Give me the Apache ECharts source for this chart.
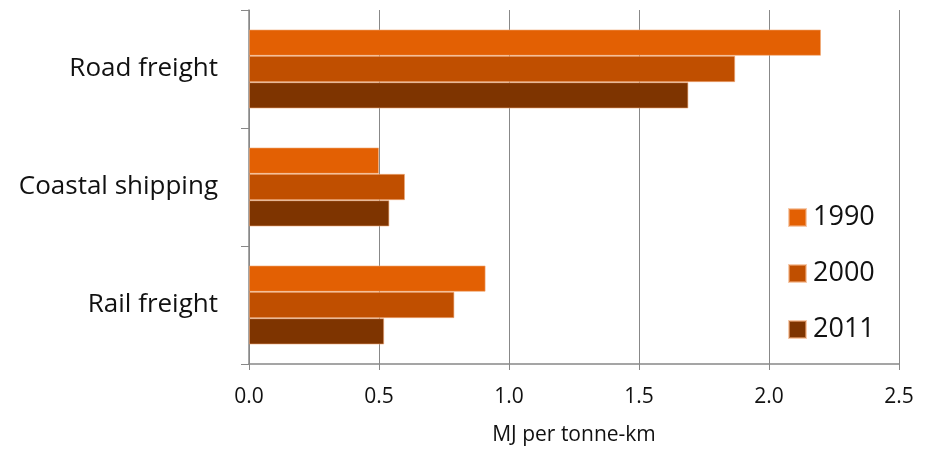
<!DOCTYPE html>
<html>
<head>
<meta charset="utf-8">
<script src="https://cdn.jsdelivr.net/npm/echarts@6/dist/echarts.min.js"></script>
<style>
  html, body { margin: 0; padding: 0; background: #fff; }
  #chart { width: 929px; height: 451px; }
</style>
</head>
<body>
<div id="chart"></div>
<script>
// Energy intensity of freight transport modes
const categories = ['Rail freight', 'Coastal shipping', 'Road freight'];
const years = ['1990', '2000', '2011'];
const values1990 = [0.91, 0.50, 2.20];
const values2000 = [0.79, 0.60, 1.87];
const values2011 = [0.52, 0.54, 1.69];
const xTicks = [0, 0.5, 1.0, 1.5, 2.0, 2.5];

const colors = ['#E36003', '#C04F00', '#7E3400'];
const font = '"Open Sans", Lato, sans-serif';
const axisGray = '#888888';

const seriesValues = [values1990, values2000, values2011];

const chart = echarts.init(document.getElementById('chart'), null, { renderer: 'canvas' });
chart.setOption({
  animation: false,
  textStyle: { fontFamily: font },
  grid: { left: 249, right: 30, top: 10, bottom: 84, containLabel: false },
  legend: {
    data: years.map(y => ({ name: y, icon: 'rect' })),
    orient: 'vertical',
    left: 783,
    top: 199,
    itemWidth: 17,
    itemHeight: 17,
    itemGap: 29,
    textStyle: { fontSize: 27, lineHeight: 27, color: '#111', fontFamily: font, padding: [0, 0, 0, 2] }
  },
  xAxis: {
    type: 'value',
    min: xTicks[0],
    max: xTicks[xTicks.length - 1],
    interval: 0.5,
    name: 'MJ per tonne-km',
    nameLocation: 'middle',
    nameGap: 61,
    nameTextStyle: { fontSize: 21, color: '#111', fontFamily: font },
    axisLine: { show: true, lineStyle: { color: axisGray, width: 1.5 } },
    axisTick: { show: true, length: 6, lineStyle: { color: axisGray } },
    axisLabel: {
      fontSize: 21, color: '#111', margin: 23, fontFamily: font,
      formatter: v => v.toFixed(1)
    },
    splitLine: { show: true, lineStyle: { color: axisGray, width: 1 } }
  },
  yAxis: {
    type: 'category',
    data: categories,
    axisLine: { show: true, lineStyle: { color: axisGray, width: 1.5 } },
    axisTick: { show: true, length: 8, lineStyle: { color: axisGray } },
    axisLabel: { fontSize: 26, color: '#111', margin: 31, fontFamily: font, padding: [3, 0, 0, 0] },
    splitLine: { show: false }
  },
  series: years.map((y, i) => ({
    name: y,
    type: 'bar',
    data: seriesValues[i],
    barGap: '0%',
    barCategoryGap: '33%',
    itemStyle: { color: colors[i], borderColor: 'rgba(240,170,120,0.6)', borderWidth: 1 }
  }))
});
</script>
</body>
</html>
